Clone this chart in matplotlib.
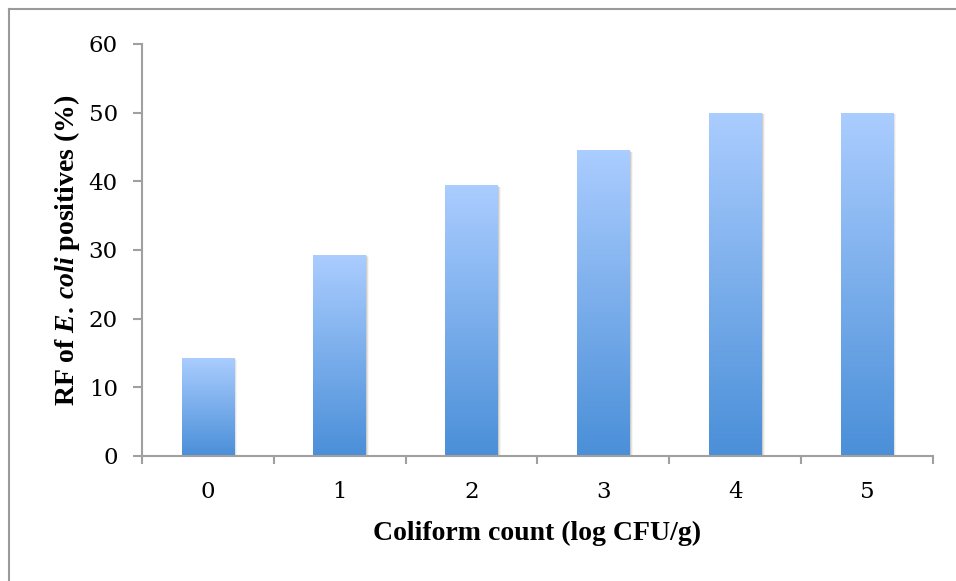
import matplotlib
matplotlib.use("Agg")
import matplotlib.pyplot as plt
import numpy as np
from matplotlib.colors import LinearSegmentedColormap
from matplotlib.patches import Rectangle
from matplotlib.lines import Line2D
import matplotlib.transforms as mtransforms

categories = ["0", "1", "2", "3", "4", "5"]
values = [14.3, 29.3, 39.4, 44.5, 50.0, 50.0]
yticks = [0, 10, 20, 30, 40, 50, 60]

plt.rcParams['mathtext.fontset'] = 'custom'
plt.rcParams['mathtext.it'] = 'Liberation Serif:italic:bold'
plt.rcParams['mathtext.rm'] = 'Liberation Serif:bold'
plt.rcParams['font.family'] = 'Liberation Serif'

W, H = 956, 581
fig = plt.figure(figsize=(W / 100, H / 100), dpi=100)
ax = fig.add_axes([142 / W, 1 - 456 / H, (933 - 142) / W, (456 - 44) / H])

# figure border (left and top)
fig.add_artist(Line2D([8.5 / W, 8.5 / W], [0, 1 - 9 / H], transform=fig.transFigure, color="#9a9a9a", lw=1.5))
fig.add_artist(Line2D([8.5 / W, 1], [1 - 9 / H, 1 - 9 / H], transform=fig.transFigure, color="#9a9a9a", lw=1.5))

cmap = LinearSegmentedColormap.from_list("g", ["#4a8fd8", "#abcdff"])
grad = np.linspace(0, 1, 256).reshape(-1, 1)
x = np.arange(len(categories))
bw = 0.4
bars = ax.bar(x, values, width=bw, color="none", edgecolor="none", zorder=3)
for b in bars:
    x0, y0 = b.get_x(), b.get_y()
    w, h = b.get_width(), b.get_height()
    # soft shadow
    for i, a in enumerate([0.10, 0.07, 0.04]):
        off = mtransforms.offset_copy(ax.transData, fig=fig, x=(i + 1) * 1.0, y=-(i + 1) * 0.6, units='dots')
        ax.add_patch(Rectangle((x0, y0), w, h, transform=off, facecolor="black", alpha=a, edgecolor="none", zorder=2))
    im = ax.imshow(grad, extent=[x0, x0 + w, y0, y0 + h], origin="lower", cmap=cmap, aspect="auto", zorder=3)
    im.set_clip_path(b)

ax.set_xlim(-0.5, len(categories) - 0.5)
ax.set_ylim(0, 60)
ax.set_yticks(yticks)
ax.set_yticklabels([str(t) for t in yticks], family="DejaVu Serif")
ax.set_xticks(np.arange(-0.5, len(categories), 1.0))
ax.set_xticklabels([])
ax.set_xticks(x, minor=True)
ax.set_xticklabels(categories, minor=True, family="DejaVu Serif")
ax.tick_params(axis="x", which="minor", length=0, pad=18, labelsize=16.5)
ax.tick_params(axis="x", which="major", length=6, width=1.5, color="#a0a0a0", direction="out")
ax.tick_params(axis="y", length=6.5, width=1.5, color="#a0a0a0", direction="out", pad=11, labelsize=16.5)

for s in ["top", "right"]:
    ax.spines[s].set_visible(False)
for s in ["left", "bottom"]:
    ax.spines[s].set_color("#a0a0a0")
    ax.spines[s].set_linewidth(1.5)
ax.spines["bottom"].set_zorder(4)

ax.set_xlabel("Coliform count (log CFU/g)", fontsize=20, fontweight="bold")
ax.xaxis.set_label_coords(0.5, -0.157)
ax.set_ylabel(r"RF of $\mathit{E.\,coli}$ positives (%)", fontsize=20, fontweight="bold")
ax.yaxis.set_label_coords(-0.076, 0.5)

fig.savefig("out.png", dpi=100)
